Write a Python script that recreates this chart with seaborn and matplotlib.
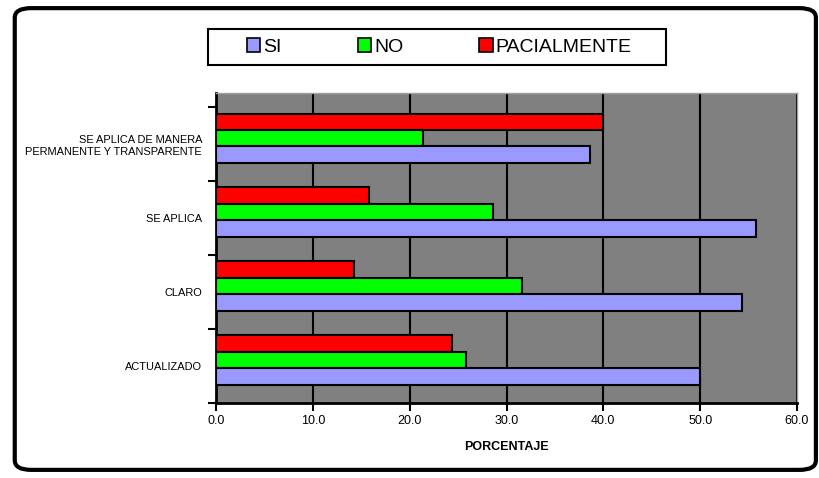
import matplotlib
matplotlib.use("Agg")
import matplotlib.pyplot as plt
from matplotlib.patches import FancyBboxPatch, Rectangle
import numpy as np
import pandas as pd
import seaborn as sns

## Data
categories = ["SE APLICA DE MANERA\nPERMANENTE Y TRANSPARENTE", "SE APLICA", "CLARO", "ACTUALIZADO"]
si = [38.6, 55.8, 54.3, 50.0]
no = [21.4, 28.6, 31.6, 25.8]
parcial = [40.0, 15.8, 14.2, 24.4]
series = ["SI", "NO", "PACIALMENTE"]
x_ticks = [0, 10, 20, 30, 40, 50, 60]

df = pd.DataFrame({
    "cat": categories * 3,
    "val": si + no + parcial,
    "serie": ["SI"] * 4 + ["NO"] * 4 + ["PACIALMENTE"] * 4,
})
colors = {"SI": "#9999FF", "NO": "#00FF00", "PACIALMENTE": "#FF0000"}

sns.set_theme(style="white", rc={"text.color": "black", "xtick.color": "black",
                                 "ytick.color": "black", "axes.labelcolor": "black",
                                 "xtick.bottom": True, "ytick.left": True})
plt.rcParams['font.family'] = ['Liberation Sans', 'DejaVu Sans']

fig = plt.figure(figsize=(8.2, 4.78), dpi=100)
ax = fig.add_axes([0.2634, 0.157, 0.7086, 0.6484])

sns.barplot(data=df, y="cat", x="val", hue="serie", order=categories,
            hue_order=["PACIALMENTE", "NO", "SI"], palette=colors,
            orient="h", width=0.666, edgecolor="black", linewidth=1.5,
            saturation=1, ax=ax, zorder=3)

# shift the groups up a bit (bars sit above the band centre)
for p in ax.patches:
    p.set_y(p.get_y() - 0.08)

ax.set_facecolor("#808080")
ax.set_xlim(0, 60)
ax.set_ylim(3.5, -0.69)
ax.set_xticks(x_ticks)
ax.set_xticklabels([f"{v:.1f}" for v in x_ticks], fontsize=9)
ax.set_yticks(range(len(categories)))
ax.set_yticklabels(categories, fontsize=7.9)
ax.tick_params(axis="y", which="major", left=True, length=0, pad=10)
ax.set_yticks(np.arange(-0.5, 4, 1), minor=True)
ax.tick_params(axis="y", which="minor", left=True, length=6, width=1.5,
               color="black", direction="out")
ax.tick_params(axis="x", bottom=True, length=6, width=1.5, color="black",
               direction="out", pad=3)
ax.xaxis.grid(True, color="black", linewidth=1.5, zorder=1)
ax.set_axisbelow(True)
ax.set_xlabel("PORCENTAJE", fontsize=9, fontweight="bold", labelpad=10)
ax.set_ylabel("")
for side in ["left", "bottom"]:
    ax.spines[side].set_color("black")
    ax.spines[side].set_linewidth(2)
for side in ["top", "right"]:
    ax.spines[side].set_color("#A0A0A0")
    ax.spines[side].set_linewidth(1)

ax.get_legend().remove()
handles, labels = ax.get_legend_handles_labels()
order = [labels.index(s) for s in series]
leg = fig.legend([handles[i] for i in order], series, loc="center",
                 bbox_to_anchor=(0.5357, 0.902), ncol=3, fontsize=14,
                 frameon=False, handlelength=0.7, handleheight=0.7,
                 handletextpad=0.15, columnspacing=3.9, borderpad=0,
                 borderaxespad=0)
for h in leg.legend_handles:
    h.set_edgecolor("black")
    h.set_linewidth(1.2)

# legend box
fig.patches.append(Rectangle((208 / 820, 1 - 65 / 478), 458 / 820, 36 / 478,
                             transform=fig.transFigure, facecolor="none",
                             edgecolor="black", linewidth=1.5))

# rounded outer border
border = FancyBboxPatch((0.018, 0.017), 0.977, 0.966, transform=fig.transFigure,
                        boxstyle="round,pad=0,rounding_size=0.02",
                        facecolor="none", edgecolor="black", linewidth=3)
fig.patches.append(border)

fig.savefig("out.png", dpi=100)
